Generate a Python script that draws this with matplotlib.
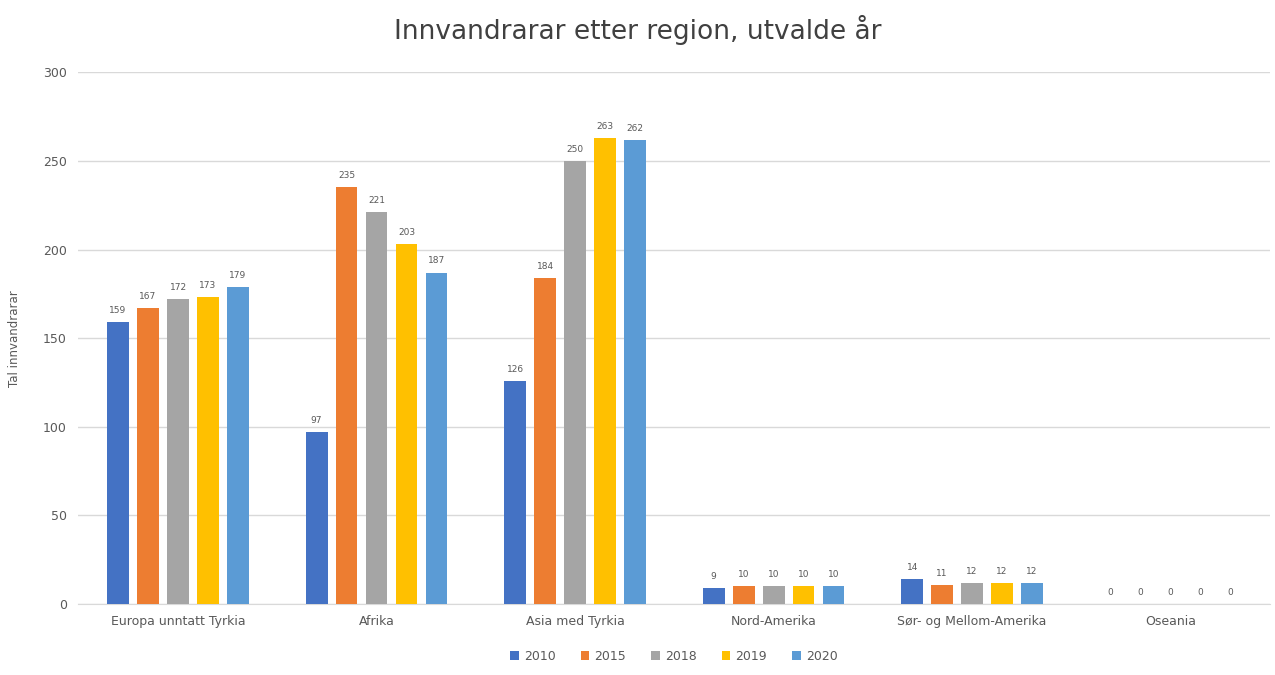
import matplotlib.pyplot as plt
import numpy as np

# data
regions = ['Europa unntatt Tyrkia', 'Afrika', 'Asia med Tyrkia', 'Nord-Amerika',
           'Sør- og Mellom-Amerika', 'Oseania']
years = ['2010', '2015', '2018', '2019', '2020']
v2010 = [159, 97, 126, 9, 14, 0]
v2015 = [167, 235, 184, 10, 11, 0]
v2018 = [172, 221, 250, 10, 12, 0]
v2019 = [173, 203, 263, 10, 12, 0]
v2020 = [179, 187, 262, 10, 12, 0]
series = [v2010, v2015, v2018, v2019, v2020]
colors = ['#4472C4', '#ED7D31', '#A5A5A5', '#FFC000', '#5B9BD5']

fig = plt.figure(figsize=(12.75, 6.75), dpi=100)
ax = fig.add_axes([0.061, 0.105, 0.935, 0.788])

x = np.arange(len(regions))
width = 0.11
step = 0.151
for i, (vals, c, yr) in enumerate(zip(series, colors, years)):
    pos = x + (i - 2) * step
    ax.bar(pos, vals, width, color=c, label=yr, zorder=3)
    for px, v in zip(pos, vals):
        ax.text(px, v + 4, str(v), ha='center', va='bottom', fontsize=6.5, color='#595959')

ax.set_xlim(-0.505, 5.5)
ax.set_ylim(0, 300)
ax.set_yticks(range(0, 301, 50))
ax.yaxis.grid(True, color='#D9D9D9', linewidth=1, zorder=0)
ax.tick_params(axis='both', length=0, labelsize=9, colors='#595959', pad=8)
ax.set_xticks(x)
ax.set_xticklabels(regions)
for s in ['top', 'right', 'left']:
    ax.spines[s].set_visible(False)
ax.spines['bottom'].set_color('#D9D9D9')
ax.set_ylabel('Tal innvandrarar', fontsize=8.5, color='#595959', labelpad=16)

fig.text(0.5, 0.955, 'Innvandrarar etter region, utvalde år', fontsize=19,
         color='#404040', ha='center', va='center')
ax.legend(loc='upper center', bbox_to_anchor=(0.5, -0.065), ncol=5, frameon=False,
          fontsize=9, handlelength=0.7, handleheight=0.7, columnspacing=2,
          handletextpad=0.4, labelcolor='#595959')

fig.savefig('out.png', dpi=100)
